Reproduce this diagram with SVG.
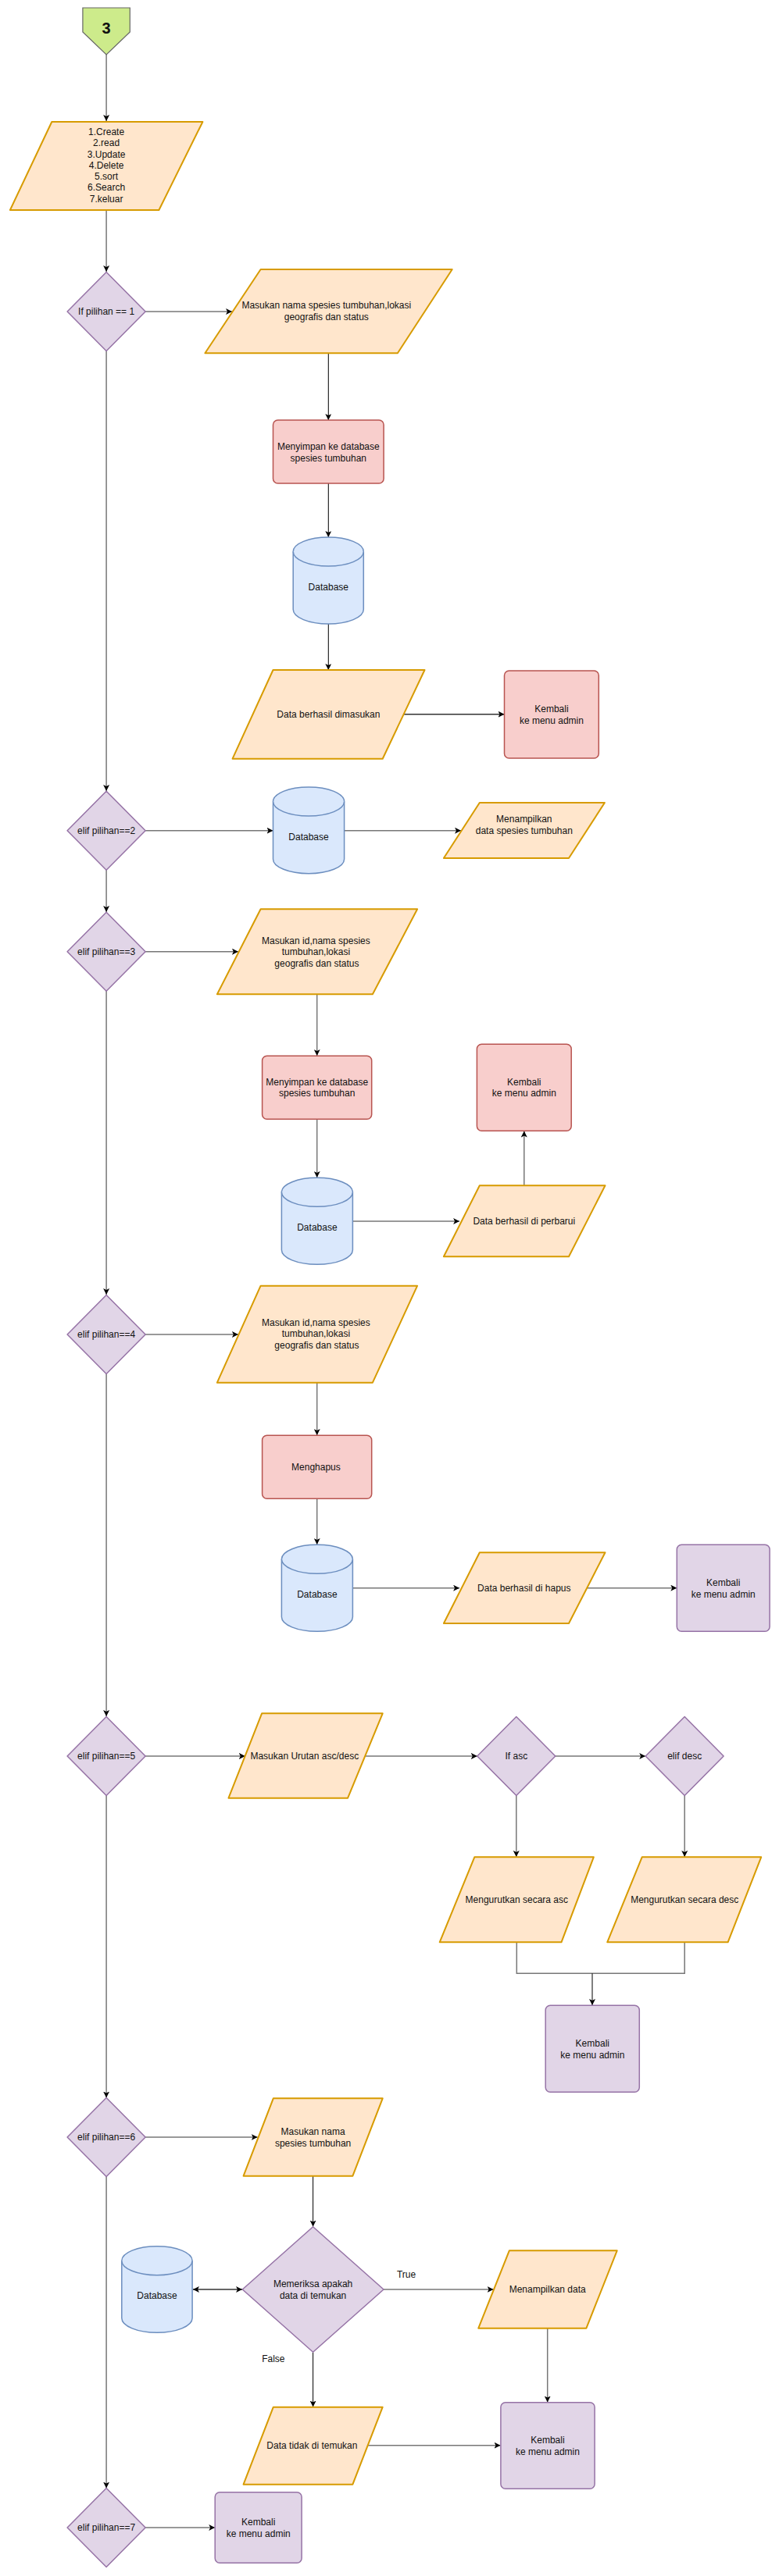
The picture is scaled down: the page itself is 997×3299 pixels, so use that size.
<svg xmlns="http://www.w3.org/2000/svg" width="997" height="3299" viewBox="0 0 997 3299">
<defs>
<style>
text{font-family:"Liberation Sans",Arial,sans-serif;font-size:12px;fill:#111;text-anchor:middle}
.io{fill:#ffe6cc;stroke:#d79b00;stroke-width:2;stroke-linejoin:round}
.pr{fill:#f8cecc;stroke:#b85450;stroke-width:1.5}
.pu{fill:#e1d5e7;stroke:#9673a6;stroke-width:1.5}
.dm{fill:#e1d5e7;stroke:#9673a6;stroke-width:1.5;stroke-linejoin:round}
.db{fill:#dae8fc;stroke:#6c8ebf;stroke-width:1.5}
.g{fill:none;stroke:#777;stroke-width:1.5}
.k{fill:none;stroke:#000;stroke-width:1}
.d{fill:none;stroke:#333;stroke-width:1.6}
.a{marker-end:url(#ar)}
</style>
<marker id="ar" markerUnits="userSpaceOnUse" markerWidth="8" markerHeight="8" refX="8" refY="4" orient="auto-start-reverse">
<path d="M0,0 L8,4 L0,8 L2,4 z" fill="#000"/>
</marker>
</defs>
<rect width="997" height="3299" fill="#fff"/>

<g id="connectors">
<path class="g a" d="M136.1,70 V155"/>
<path class="g a" d="M136.1,269 V348"/>
<path class="g a" d="M186.1,399 H297"/>
<path class="k a" d="M420.3,452.3 V538"/>
<path class="k a" d="M420.3,619 V688"/>
<path class="k a" d="M420.3,799 V858"/>
<path class="d a" d="M516.8,914.7 H645.5"/>
<path class="g a" d="M136.1,449.5 V1013"/>
<path class="g a" d="M186.1,1063.7 H349.5"/>
<path class="g a" d="M440.6,1063.7 H590"/>
<path class="g a" d="M136.1,1114 V1168"/>
<path class="g a" d="M186.1,1218.7 H304.9"/>
<path class="g a" d="M405.7,1273.3 V1352"/>
<path class="g a" d="M405.7,1433.3 V1508"/>
<path class="g a" d="M451.4,1564 H588.1"/>
<path class="g a" d="M670.8,1518.3 V1448.5"/>
<path class="g a" d="M136.1,1269 V1658"/>
<path class="g a" d="M186.1,1709 H304.9"/>
<path class="g a" d="M405.7,1770.7 V1838"/>
<path class="g a" d="M405.7,1919.3 V1978"/>
<path class="g a" d="M451.4,2033.7 H588.1"/>
<path class="g a" d="M751.4,2033.7 H866.3"/>
<path class="g a" d="M136.1,1759.5 V2198"/>
<path class="g a" d="M186.1,2249 H313.8"/>
<path class="g a" d="M467.3,2249 H610.8"/>
<path class="g a" d="M710.8,2249 H826.2"/>
<path class="g a" d="M660.8,2299.5 V2378"/>
<path class="g a" d="M876.2,2299.5 V2378"/>
<path class="g" d="M661.3,2487.3 V2527.3 H876.2 V2487.3"/>
<path class="k a" d="M758,2527.3 V2568"/>
<path class="g a" d="M136.1,2299.5 V2686.5"/>
<path class="g a" d="M186.1,2737 H329.7"/>
<path class="k a" d="M400.6,2786.7 V2851.5"/>
<path class="d a" d="M247,2932 H310" marker-start="url(#ar)"/>
<path class="g a" d="M491,2932 H631.6"/>
<text x="520.1" y="2917">True</text>
<path class="g a" d="M700.7,2981.7 V3076.5"/>
<text x="349.8" y="3024.7">False</text>
<path class="k a" d="M400.6,3012.3 V3082.5"/>
<path class="g a" d="M470.5,3131.7 H640.5"/>
<path class="g a" d="M136.1,2787 V3186.5"/>
<path class="g a" d="M186.1,3237 H275.2"/>
</g>

<g id="start">
<polygon points="105.9,10 166.3,10 166.3,41 136.1,70 105.9,41" fill="#cdeb8b" stroke="#666" stroke-width="1.2"/>
<text x="136.1" y="42.5" style="font-size:20px;font-weight:bold">3</text>
</g>

<g id="menu">
<polygon class="io" points="66.3,156 259.4,156 203.4,269 12.9,269"/>
<text x="136.1" y="173">1.Create</text>
<text x="136.1" y="187.3">2.read</text>
<text x="136.1" y="201.6">3.Update</text>
<text x="136.1" y="215.9">4.Delete</text>
<text x="136.1" y="230.1">5.sort</text>
<text x="136.1" y="244.4">6.Search</text>
<text x="136.1" y="258.7">7.keluar</text>
</g>

<g id="d1">
<polygon class="dm" points="136.1,348.5 186.1,399 136.1,449.5 86.1,399"/>
<text x="136.1" y="403">If pilihan == 1</text>
</g>
<g id="in1">
<polygon class="io" points="333.6,345 578.7,345 508.9,452.3 262.4,452.3"/>
<text x="417.8" y="395">Masukan nama spesies tumbuhan,lokasi</text>
<text x="417.8" y="410">geografis dan status</text>
</g>
<g id="save1">
<rect class="pr" x="349.5" y="538" width="141.6" height="81" rx="6"/>
<text x="420.3" y="576">Menyimpan ke database</text>
<text x="420.3" y="591">spesies tumbuhan</text>
</g>
<g id="db1">
<path class="db" d="M375.2,706.5 A45.05,18.5 0 0 1 465.3,706.5 V780.5 A45.05,18.5 0 0 1 375.2,780.5 Z"/>
<path class="db" d="M375.2,706.5 A45.05,18.5 0 0 0 465.3,706.5" fill="none"/>
<text x="420.3" y="756">Database</text>
</g>
<g id="ok1">
<polygon class="io" points="349.5,858 543.5,858 489.7,971.7 297.6,971.7"/>
<text x="420.4" y="919">Data berhasil dimasukan</text>
</g>
<g id="back1">
<rect class="pr" x="645.5" y="859" width="120.8" height="112" rx="6"/>
<text x="705.9" y="912">Kembali</text>
<text x="705.9" y="927">ke menu admin</text>
</g>

<g id="d2">
<polygon class="dm" points="136.1,1013.2 186.1,1063.7 136.1,1114.2 86.1,1063.7"/>
<text x="136.1" y="1068">elif pilihan==2</text>
</g>
<g id="db2">
<path class="db" d="M349.5,1026.5 A45.55,18.5 0 0 1 440.6,1026.5 V1100.2 A45.55,18.5 0 0 1 349.5,1100.2 Z"/>
<path class="db" d="M349.5,1026.5 A45.55,18.5 0 0 0 440.6,1026.5" fill="none"/>
<text x="395" y="1076">Database</text>
</g>
<g id="show2">
<polygon class="io" points="613.8,1028 773.9,1028 728,1099 567.9,1099"/>
<text x="670.8" y="1053">Menampilkan</text>
<text x="670.8" y="1068">data spesies tumbuhan</text>
</g>

<g id="d3">
<polygon class="dm" points="136.1,1168.2 186.1,1218.7 136.1,1269.2 86.1,1218.7"/>
<text x="136.1" y="1223">elif pilihan==3</text>
</g>
<g id="in3">
<polygon class="io" points="333.6,1164.3 534.1,1164.3 476.9,1273.3 277.9,1273.3"/>
<text x="404.4" y="1209">Masukan id,nama spesies</text>
<text x="404.4" y="1223.3">tumbuhan,lokasi</text>
<text x="405.4" y="1237.7">geografis dan status</text>
</g>
<g id="save3">
<rect class="pr" x="335.6" y="1352.3" width="140.1" height="81" rx="6"/>
<text x="405.7" y="1389.6">Menyimpan ke database</text>
<text x="405.7" y="1404">spesies tumbuhan</text>
</g>
<g id="back3">
<rect class="pr" x="610.4" y="1337.3" width="120.8" height="111" rx="6"/>
<text x="670.8" y="1389.6">Kembali</text>
<text x="670.8" y="1404">ke menu admin</text>
</g>
<g id="db3">
<path class="db" d="M360.4,1526.8 A45.5,18.5 0 0 1 451.4,1526.8 V1600.8 A45.5,18.5 0 0 1 360.4,1600.8 Z"/>
<path class="db" d="M360.4,1526.8 A45.5,18.5 0 0 0 451.4,1526.8" fill="none"/>
<text x="405.9" y="1576">Database</text>
</g>
<g id="ok3">
<polygon class="io" points="613.8,1518.3 774.5,1518.3 728,1609.3 567.9,1609.3"/>
<text x="670.8" y="1568">Data berhasil di perbarui</text>
</g>

<g id="d4">
<polygon class="dm" points="136.1,1658.5 186.1,1709 136.1,1759.5 86.1,1709"/>
<text x="136.1" y="1713.3">elif pilihan==4</text>
</g>
<g id="in4">
<polygon class="io" points="333.6,1646.7 534.1,1646.7 476.9,1770.7 277.9,1770.7"/>
<text x="404.4" y="1698">Masukan id,nama spesies</text>
<text x="404.4" y="1712.3">tumbuhan,lokasi</text>
<text x="405.4" y="1726.7">geografis dan status</text>
</g>
<g id="del4">
<rect class="pr" x="335.6" y="1838.3" width="140.1" height="81" rx="6"/>
<text x="404.4" y="1883">Menghapus</text>
</g>
<g id="db4">
<path class="db" d="M360.4,1996.8 A45.5,18.5 0 0 1 451.4,1996.8 V2070.8 A45.5,18.5 0 0 1 360.4,2070.8 Z"/>
<path class="db" d="M360.4,1996.8 A45.5,18.5 0 0 0 451.4,1996.8" fill="none"/>
<text x="405.9" y="2045.7">Database</text>
</g>
<g id="ok4">
<polygon class="io" points="613.8,1988.3 774.5,1988.3 728,2079 567.9,2079"/>
<text x="670.8" y="2037.7">Data berhasil di hapus</text>
</g>
<g id="back4">
<rect class="pu" x="866.3" y="1978.3" width="118.8" height="111" rx="6"/>
<text x="925.7" y="2030.7">Kembali</text>
<text x="925.7" y="2045.7">ke menu admin</text>
</g>

<g id="d5">
<polygon class="dm" points="136.1,2198.5 186.1,2249 136.1,2299.5 86.1,2249"/>
<text x="136.1" y="2253.3">elif pilihan==5</text>
</g>
<g id="in5">
<polygon class="io" points="335.1,2194.3 489.7,2194.3 445.1,2302.7 292.5,2302.7"/>
<text x="389.8" y="2253">Masukan Urutan asc/desc</text>
</g>
<g id="asc">
<polygon class="dm" points="660.8,2198.5 710.8,2249 660.8,2299.5 610.8,2249"/>
<text x="660.8" y="2253.3">If asc</text>
</g>
<g id="desc">
<polygon class="dm" points="876.2,2198.5 926.1,2249 876.2,2299.5 826.2,2249"/>
<text x="876.2" y="2253.3">elif desc</text>
</g>
<g id="sortasc">
<polygon class="io" points="607.3,2378.3 759.8,2378.3 718.5,2487.3 562.7,2487.3"/>
<text x="661.3" y="2436.7">Mengurutkan secara asc</text>
</g>
<g id="sortdesc">
<polygon class="io" points="821.7,2378.3 974.2,2378.3 931.6,2487.3 777.2,2487.3"/>
<text x="876.2" y="2436.7">Mengurutkan secara desc</text>
</g>
<g id="back5">
<rect class="pu" x="698.2" y="2568.3" width="120.1" height="111" rx="6"/>
<text x="758.3" y="2620.7">Kembali</text>
<text x="758.3" y="2635.7">ke menu admin</text>
</g>

<g id="d6">
<polygon class="dm" points="136.1,2686.5 186.1,2737 136.1,2787.5 86.1,2737"/>
<text x="136.1" y="2741.3">elif pilihan==6</text>
</g>
<g id="in6">
<polygon class="io" points="349.8,2687.3 489.7,2687.3 451.4,2786.7 311.6,2786.7"/>
<text x="400.6" y="2733.7">Masukan nama</text>
<text x="400.6" y="2749">spesies tumbuhan</text>
</g>
<g id="check6">
<polygon class="dm" points="400.6,2851.7 491,2932 400.6,3012.3 310.3,2932"/>
<text x="400.6" y="2929">Memeriksa apakah</text>
<text x="400.6" y="2944">data di temukan</text>
</g>
<g id="db6">
<path class="db" d="M155.8,2895.2 A45.15,18.5 0 0 1 246.1,2895.2 V2968.8 A45.15,18.5 0 0 1 155.8,2968.8 Z"/>
<path class="db" d="M155.8,2895.2 A45.15,18.5 0 0 0 246.1,2895.2" fill="none"/>
<text x="201" y="2944">Database</text>
</g>
<g id="show6">
<polygon class="io" points="651.8,2882.3 789.7,2882.3 750.4,2981.7 612.3,2981.7"/>
<text x="700.7" y="2935.7">Menampilkan data</text>
</g>
<g id="notfound6">
<polygon class="io" points="349.8,3082.7 489.7,3082.7 451.4,3181.7 311.6,3181.7"/>
<text x="399.4" y="3135.7">Data tidak di temukan</text>
</g>
<g id="back6">
<rect class="pu" x="640.9" y="3076.7" width="120.2" height="110.6" rx="6"/>
<text x="700.9" y="3129">Kembali</text>
<text x="700.9" y="3144">ke menu admin</text>
</g>

<g id="d7">
<polygon class="dm" points="136.1,3186.5 186.1,3237 136.1,3287.5 86.1,3237"/>
<text x="136.1" y="3241.3">elif pilihan==7</text>
</g>
<g id="back7">
<rect class="pu" x="275.2" y="3191.7" width="110.9" height="90.6" rx="6"/>
<text x="330.7" y="3234">Kembali</text>
<text x="330.7" y="3249">ke menu admin</text>
</g>
</svg>
